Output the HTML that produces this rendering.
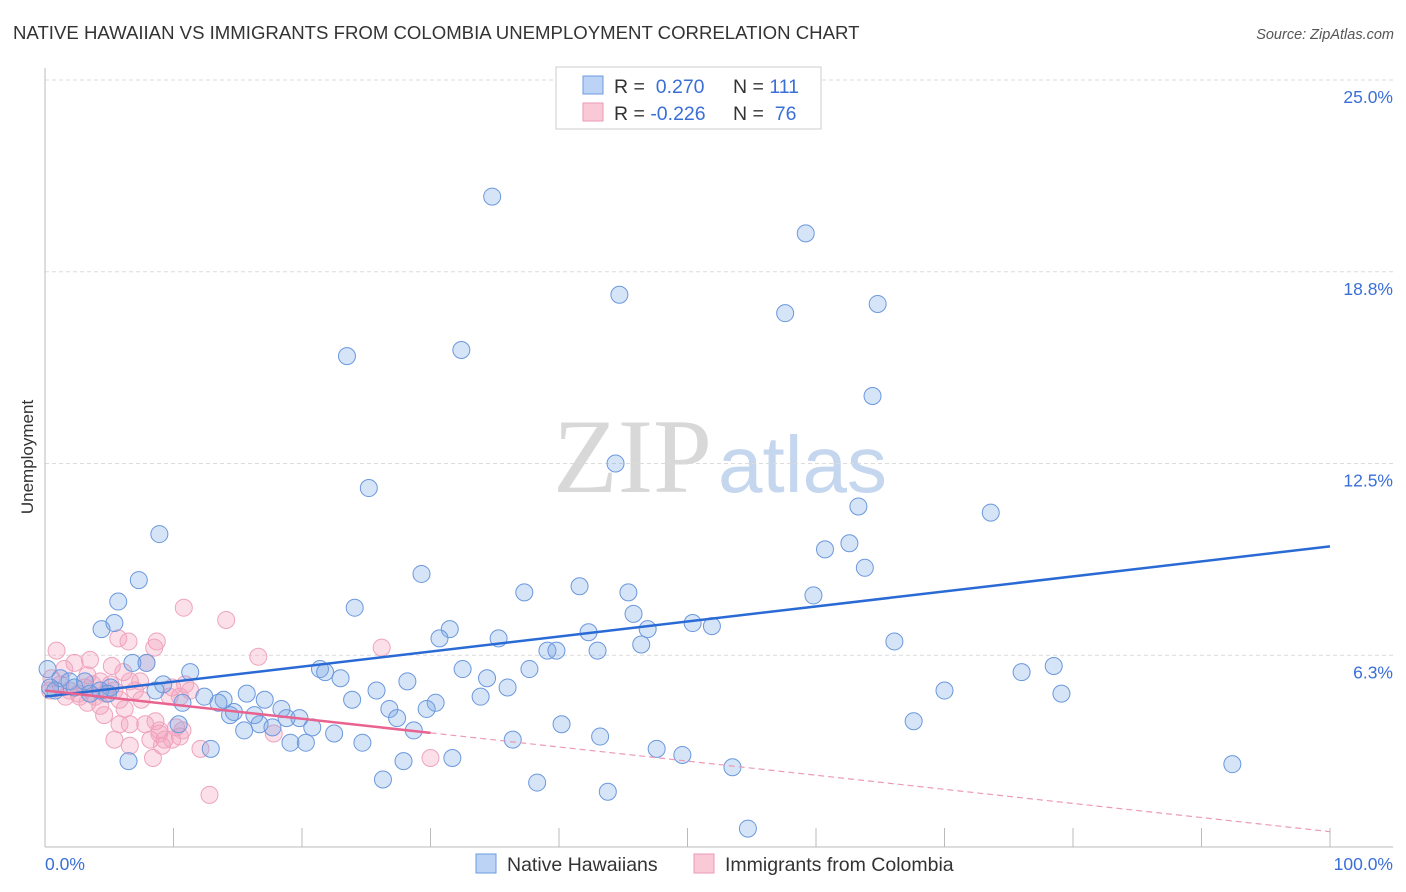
<!DOCTYPE html>
<html><head><meta charset="utf-8"><style>
body{margin:0;background:#fff;font-family:"Liberation Sans",sans-serif}
svg{display:block}
</style></head><body>
<svg id="chart" width="1406" height="892">
<text x="13" y="39" font-size="18.6" fill="#333">NATIVE HAWAIIAN VS IMMIGRANTS FROM COLOMBIA UNEMPLOYMENT CORRELATION CHART</text>
<text x="1394" y="39" font-size="14.5" fill="#555" font-style="italic" text-anchor="end">Source: ZipAtlas.com</text>
<text transform="translate(33,457) rotate(-90)" font-size="17" fill="#333" text-anchor="middle">Unemployment</text>
<g>
<text x="553" y="492" font-size="106" font-family="Liberation Serif,serif" fill="#d8d8d8">ZIP</text>
<text x="718" y="492" font-size="80" fill="#c5d6ef">atlas</text>
</g>
<g id="grid"></g><g id="axes"></g><g id="pts"></g><g id="trend"></g>
<g>
<rect x="556" y="67" width="265" height="62" fill="#fff" stroke="#ccc"/>
<rect x="583" y="76" width="20" height="18" fill="#bcd3f5" stroke="#6b9be0"/>
<rect x="583" y="103" width="20" height="18" fill="#f9c9d8" stroke="#ec9ab5"/>
<text x="614" y="93" font-size="19.5" fill="#333">R = <tspan fill="#3a6fd8">&#160;0.270</tspan><tspan x="733">N = </tspan><tspan fill="#3a6fd8">111</tspan></text>
<text x="614" y="120" font-size="19.5" fill="#333">R = <tspan fill="#3a6fd8">-0.226</tspan><tspan x="733">N = </tspan><tspan fill="#3a6fd8">&#160;76</tspan></text>
</g>
<g>
<rect x="476" y="854" width="20" height="19" fill="#bcd3f5" stroke="#6b9be0"/>
<text x="507" y="871" font-size="19.5" fill="#333">Native Hawaiians</text>
<rect x="694" y="854" width="20" height="19" fill="#f9c9d8" stroke="#ec9ab5"/>
<text x="725" y="871" font-size="19.5" fill="#333">Immigrants from Colombia</text>
</g>
</svg>
<script>
const yTicks=[6.25,12.5,18.75,25];
const yTickLabels=["6.3%","12.5%","18.8%","25.0%"];
const xTickVals=[10,20,30,40,50,60,70,80,90,100];
const blueX=[34.8,59.2,44.7,57.6,64.8,23.5,32.4,64.4,44.4,25.2,63.3,73.6,8.9,60.7,62.6,63.8,7.3,29.3,5.7,41.6,37.3,45.4,59.8,24.1,45.8,4.4,5.4,31.5,30.7,35.3,42.3,46.9,50.4,51.9,66.1,46.4,39.1,39.8,43.0,7.9,6.8,11.3,21.4,21.8,23.0,32.5,37.7,76.0,78.5,0.2,9.2,8.6,28.2,34.4,25.8,36.0,15.7,12.4,70.0,79.1,10.7,13.9,13.5,17.1,23.9,30.4,33.9,26.8,29.7,14.7,14.4,18.4,16.3,18.8,19.8,27.4,67.6,15.5,16.7,17.7,20.8,22.5,28.7,10.4,40.2,43.2,36.4,19.1,20.3,24.7,47.6,49.6,12.9,27.9,31.7,6.5,53.5,92.4,26.3,38.3,43.8,54.7,1.2,1.9,3.1,4.3,5.1,0.8,2.3,3.5,0.4,4.9];
const blueY=[21.2,20.0,18.0,17.4,17.7,16.0,16.2,14.7,12.5,11.7,11.1,10.9,10.2,9.7,9.9,9.1,8.7,8.9,8.0,8.5,8.3,8.3,8.2,7.8,7.6,7.1,7.3,7.1,6.8,6.8,7.0,7.1,7.3,7.2,6.7,6.6,6.4,6.4,6.4,6.0,6.0,5.7,5.8,5.7,5.5,5.8,5.8,5.7,5.9,5.8,5.3,5.1,5.4,5.5,5.1,5.2,5.0,4.9,5.1,5.0,4.7,4.8,4.7,4.8,4.8,4.7,4.9,4.5,4.5,4.4,4.3,4.5,4.3,4.2,4.2,4.2,4.1,3.8,4.0,3.9,3.9,3.7,3.8,4.0,4.0,3.6,3.5,3.4,3.4,3.4,3.2,3.0,3.2,2.8,2.9,2.8,2.6,2.7,2.2,2.1,1.8,0.6,5.5,5.4,5.4,5.1,5.2,5.1,5.2,5.0,5.2,5.0];
const pinkX=[10.8,14.1,5.7,6.5,8.7,8.5,0.9,3.5,2.3,5.2,7.9,16.6,26.2,1.5,3.3,6.1,4.3,1.2,0.4,1.9,2.7,3.9,4.7,5.4,6.6,7.4,9.9,10.9,9.7,5.8,6.2,3.3,4.6,6.6,8.6,10.2,8.9,8.2,9.3,10.5,5.4,6.6,9.1,12.1,8.4,12.8,17.8,30.0,2.6,3.7,0.5,5.1,7.0,7.5,10.5,11.3,1.6,3.1,4.3,5.8,7.8,9.9,10.7,8.9];
const pinkY=[7.8,7.4,6.8,6.7,6.7,6.5,6.4,6.1,6.0,5.9,6.0,6.2,6.5,5.8,5.6,5.7,5.4,5.3,5.1,5.1,4.9,4.9,5.0,5.1,5.4,5.4,5.2,5.3,4.9,4.8,4.5,4.7,4.3,4.0,4.1,3.9,3.7,3.5,3.5,3.6,3.5,3.3,3.3,3.2,2.9,1.7,3.7,2.9,5.0,5.3,5.5,5.3,5.1,4.8,4.9,5.1,4.9,5.2,4.6,4.0,4.0,3.5,3.8,3.8];
const blueTrend=[4.9,9.8];
const pinkTrend=[5.1,0.5];
const pinkSolidEnd=30;
const NS="http://www.w3.org/2000/svg";
const X0=45,X1=1330,Y0=847,Y1=80;
const sx=v=>X0+(X1-X0)*v/100;
const sy=v=>Y0-(Y0-Y1)*v/25;
function mk(tag,attrs,parent){const e=document.createElementNS(NS,tag);for(const k in attrs)e.setAttribute(k,attrs[k]);parent.appendChild(e);return e;}
const grid=document.getElementById('grid'),axes=document.getElementById('axes'),pts=document.getElementById('pts'),trend=document.getElementById('trend');
yTicks.forEach((t,i)=>{
 const l=mk('line',{x1:X0,x2:1393,y1:sy(t),y2:sy(t),stroke:'#dcdcdc','stroke-dasharray':'4,3'},grid);
 
 
 const tx=mk('text',{x:1393,y:sy(t)+23,'text-anchor':'end','font-size':17.5,fill:'#3a6fd8'},axes);
 tx.textContent=yTickLabels[i];
 
 
});
const ya=mk('line',{x1:X0,x2:X0,y1:68,y2:Y0,stroke:'#bbb'},axes);


const xa=mk('line',{x1:X0,x2:1393,y1:Y0,y2:Y0,stroke:'#bbb'},axes);


xTickVals.forEach(v=>{
 const t=mk('line',{x1:sx(v),x2:sx(v),y1:828,y2:Y0,stroke:'#bbb'},axes);
 
 
});
const xl0=mk('text',{x:45,y:870,'font-size':17.5,fill:'#3a6fd8'},axes);xl0.textContent='0.0%';


const xl1=mk('text',{x:1393,y:870,'font-size':17.5,fill:'#3a6fd8','text-anchor':'end'},axes);xl1.textContent='100.0%';


pinkX.forEach((x,i)=>{
 const c=mk('circle',{cx:sx(x),cy:sy(pinkY[i]),r:8.5,fill:'rgba(244,160,188,0.33)',stroke:'#efa3bd','stroke-width':1},pts);
 
 
});
blueX.forEach((x,i)=>{
 const c=mk('circle',{cx:sx(x),cy:sy(blueY[i]),r:8.5,fill:'rgba(120,165,230,0.3)',stroke:'#6b98dd','stroke-width':1},pts);
 
 
});
const bt=mk('line',{x1:sx(0),y1:sy(blueTrend[0]),x2:sx(100),y2:sy(blueTrend[1]),stroke:'#2a6ad4','stroke-width':2.5},trend);


const pAt=v=>pinkTrend[0]+(pinkTrend[1]-pinkTrend[0])*v/100;
const pt=mk('line',{x1:sx(0),y1:sy(pinkTrend[0]),x2:sx(pinkSolidEnd),y2:sy(pAt(pinkSolidEnd)),stroke:'#e8638f','stroke-width':2.5},trend);


const pd=mk('line',{x1:sx(pinkSolidEnd),y1:sy(pAt(pinkSolidEnd)),x2:sx(100),y2:sy(pinkTrend[1]),stroke:'#ec9ab5','stroke-width':1.2,'stroke-dasharray':'6,4'},trend);


</script>
</body></html>
